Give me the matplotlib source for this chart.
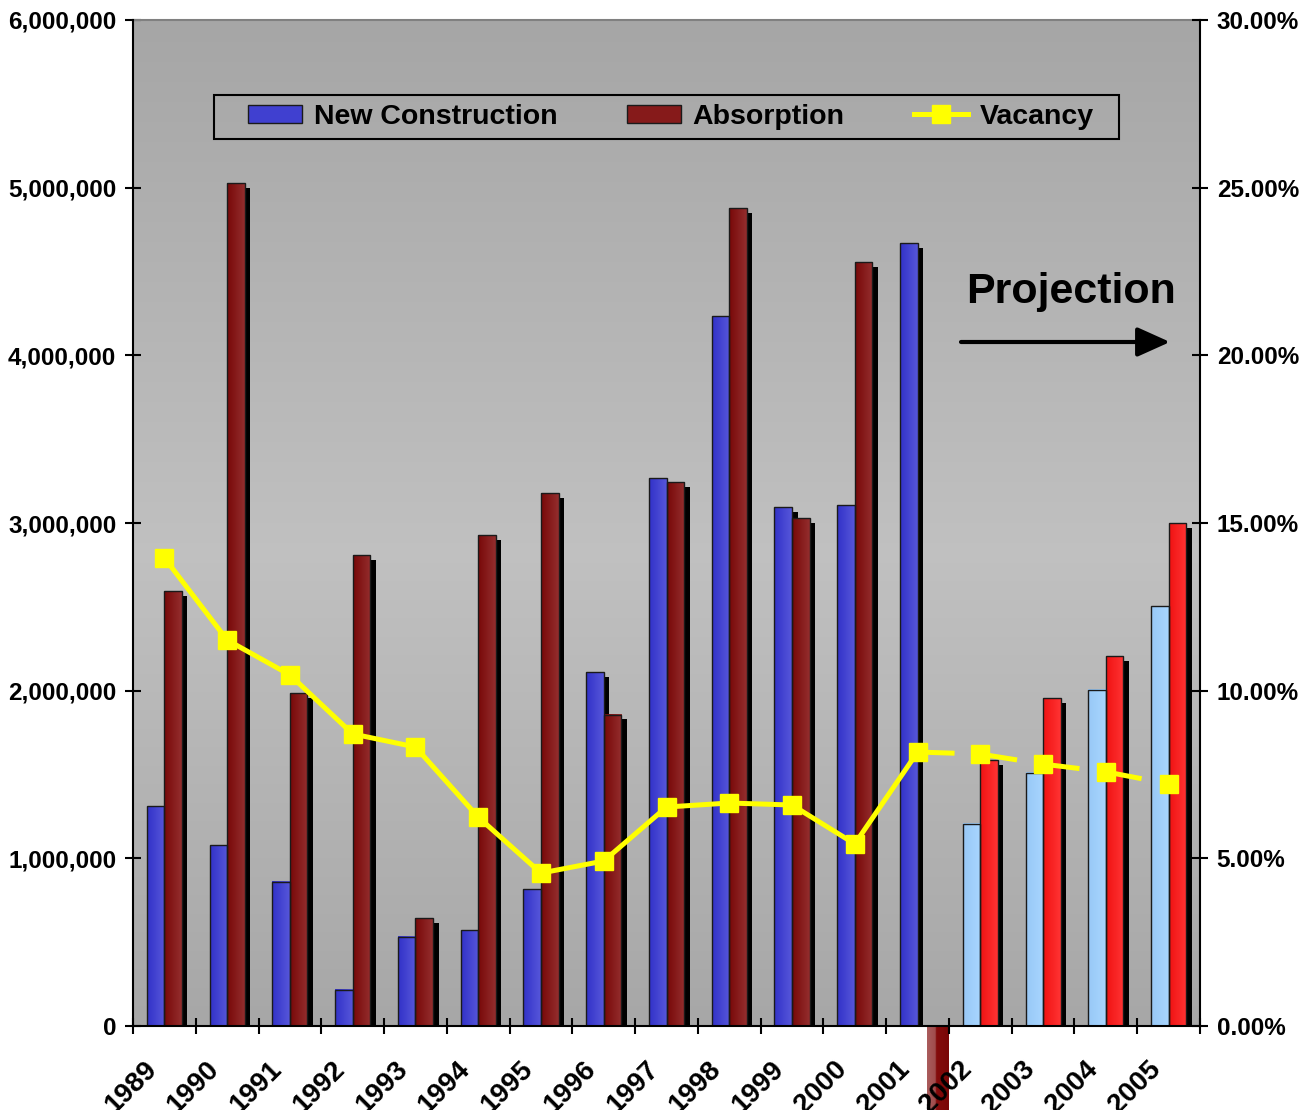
import numpy as np
import matplotlib
matplotlib.use("Agg")
from matplotlib import pyplot as plt
from matplotlib.colors import LinearSegmentedColormap
from matplotlib.patches import Rectangle, Patch
from matplotlib.lines import Line2D
from matplotlib.ticker import FuncFormatter, FixedLocator
from matplotlib.transforms import ScaledTranslation

plt.rcParams['font.family'] = ['Liberation Sans', 'DejaVu Sans']
plt.rcParams['font.weight'] = 'bold'

# data
years = ['1989', '1990', '1991', '1992', '1993', '1994', '1995', '1996', '1997',
         '1998', '1999', '2000', '2001', '2002', '2003', '2004', '2005']
new_construction = [1312000, 1079000, 859000, 215000, 531000, 572000, 817000, 2111000,
                    3268000, 4234000, 3095000, 3107000, 4669000,
                    1205000, 1509000, 2004000, 2504000]
absorption = [2594000, 5027000, 1986000, 2809000, 644000, 2928000, 3178000, 1855000,
              3244000, 4878000, 3029000, 4556000, -700000,
              1586000, 1956000, 2206000, 2999000]
vacancy = [0.1396, 0.1151, 0.1047, 0.0871, 0.0832, 0.0623, 0.0456, 0.0492, 0.0653,
           0.0665, 0.0659, 0.0543, 0.0817, 0.0811, 0.0781, 0.0758, 0.0722]
first_projected = '2002'

W, H = 1307, 1110
fig = plt.figure(figsize=(W / 100, H / 100), dpi=100)
L, R, T, B = 133, 1200, 20, 1026
ax = fig.add_axes([L / W, 1 - B / H, (R - L) / W, (B - T) / H])
ax.set_facecolor('none')
n = len(years)
idx = np.arange(n)

# background: gray gradient, lighter in the middle
t = np.linspace(0, 1, 256)
g = np.interp(t, [0, 0.53, 1], [0.651, 0.755, 0.655])
bg = np.dstack([g, g, g]).reshape(256, 1, 3)
ax.imshow(bg, extent=[0, 1, 0, 1], transform=ax.transAxes, aspect='auto',
          origin='upper', zorder=0, interpolation='bilinear')

px_x = n / (R - L)            # data units per pixel (x)
px_y = 6000000 / (B - T)      # data units per pixel (y)
sdx, sdy = 5.5 * px_x, 4.5 * px_y
bw = 0.28

cm_nc = LinearSegmentedColormap.from_list('nc', ['#3232c8', '#5656da'])
cm_ab = LinearSegmentedColormap.from_list('ab', ['#780808', '#942e2e'])
cm_nc_p = LinearSegmentedColormap.from_list('ncp', ['#98c8f6', '#a8d6ff'])
cm_ab_p = LinearSegmentedColormap.from_list('abp', ['#f01212', '#ff3434'])
cm_neg = LinearSegmentedColormap.from_list(
    'neg', [(0, '#aa5c5c'), (0.38, '#a04c4c'), (0.42, '#840c0c'), (1, '#7a0606')])
grad = np.linspace(0, 1, 64).reshape(1, -1)


def draw_bar(xc, v, cmap):
    x0, x1 = xc - bw / 2, xc + bw / 2
    if v >= 0:
        ax.add_patch(Rectangle((x0 + sdx, -sdy), bw, v, facecolor='black',
                               edgecolor='none', zorder=2))
        ax.imshow(grad, extent=(x0, x1, 0, v), cmap=cmap, aspect='auto',
                  zorder=3, interpolation='bilinear')
        ax.add_patch(Rectangle((x0, 0), bw, v, fill=False, edgecolor='#1a1a1a',
                               lw=1.0, zorder=4))
    else:
        # negative bar hangs below the plot area, under the year labels
        nx0 = x0 + 9 * px_x
        ax.imshow(grad, extent=(nx0, nx0 + 22 * px_x, v, 0), cmap=cmap,
                  aspect='auto', zorder=1, interpolation='bilinear', clip_on=False)


p0 = years.index(first_projected)
for i in idx:
    proj = i >= p0
    draw_bar(i - bw / 2, new_construction[i], cm_nc_p if proj else cm_nc)
    v = absorption[i]
    draw_bar(i + bw / 2, v, cm_neg if v < 0 else (cm_ab_p if proj else cm_ab))

ax.set_xlim(-0.5, n - 0.5)
ax.set_ylim(0, 6000000)

# axes styling
for s in ['left', 'bottom']:
    ax.spines[s].set_color('black')
    ax.spines[s].set_linewidth(1.5)
    ax.spines[s].set_zorder(6)
ax.spines['top'].set_color('#808080')
ax.spines['top'].set_linewidth(1.5)
ax.spines['right'].set_visible(False)

ax.set_yticks(np.arange(0, 6000001, 1000000))
ax.yaxis.set_major_formatter(FuncFormatter(lambda v, p: f'{int(v):,}'))
ax.tick_params(axis='y', direction='inout', length=12, width=1.5, pad=6,
               labelsize=17.5)
ax.set_xticks(idx)
ax.set_xticklabels(years, rotation=45, ha='right', rotation_mode='anchor',
                   va='center', fontsize=20)
ax.xaxis.set_minor_locator(FixedLocator(np.arange(-0.5, n, 1.0)))
ax.tick_params(axis='x', which='major', length=0, pad=24)
ax.tick_params(axis='x', which='minor', direction='inout', length=12, width=1.5)
shift = ScaledTranslation(-12 / 100, -6 / 100, fig.dpi_scale_trans)
for lab in ax.get_xticklabels():
    lab.set_transform(lab.get_transform() + shift)

# vacancy on the right axis
ax2 = ax.twinx()
ax2.set_ylim(0, 0.30)
ax2.set_yticks(np.arange(0, 0.3001, 0.05))
ax2.yaxis.set_major_formatter(FuncFormatter(lambda v, p: f'{v * 100:.2f}%'))
ax2.tick_params(axis='y', direction='inout', length=12, width=1.5, pad=6,
                labelsize=17.5)
for s in ['left', 'top', 'bottom']:
    ax2.spines[s].set_visible(False)
ax2.spines['right'].set_color('black')
ax2.spines['right'].set_linewidth(1.5)

ycol = '#ffff00'
pv = p0 - 1
ax2.plot(idx[:pv + 1], vacancy[:pv + 1], color=ycol, lw=3.6, zorder=5)
ax2.plot(idx[pv:], vacancy[pv:], color=ycol, lw=3.6, ls=(0, (7.4, 5.2)), zorder=5)
ax2.plot(idx, vacancy, ls='none', marker='s', ms=12.5, color=ycol, zorder=6)
ax2.set_xlim(-0.5, n - 0.5)

# projection label and arrow
ax.text((966 - L) / (R - L), (B - 292) / (B - T), 'Projection', transform=ax.transAxes,
        fontsize=31, fontweight='bold', ha='left', va='center', zorder=7)
ax.annotate('', xy=((1170 - L) / (R - L), (B - 342) / (B - T)),
            xytext=((961 - L) / (R - L), (B - 342) / (B - T)),
            xycoords='axes fraction', textcoords='axes fraction',
            arrowprops=dict(arrowstyle='-|>,head_length=1.0,head_width=0.45',
                            mutation_scale=20, lw=3, color='black',
                            shrinkA=0, shrinkB=0), zorder=7)

# legend
handles = [Patch(facecolor='#4040d0', edgecolor='#1a1a1a', lw=1),
           Patch(facecolor='#861a1a', edgecolor='#1a1a1a', lw=1),
           Line2D([], [], color=ycol, lw=3.6, marker='s', ms=12.5)]
fig.legend(handles, ['New Construction', 'Absorption', 'Vacancy'], ncol=3,
           loc='center', bbox_to_anchor=(671 / W, 1 - 117 / H),
           bbox_transform=fig.transFigure, frameon=False,
           handlelength=1.9, handleheight=0.6, handletextpad=0.4,
           columnspacing=2.45, prop={'weight': 'bold', 'size': 20.5})
fig.add_artist(Rectangle((214 / W, 1 - 139 / H), 905 / W, 44 / H, fill=False,
                         edgecolor='black', lw=1.5, transform=fig.transFigure))

fig.savefig('out.png', dpi=100)
